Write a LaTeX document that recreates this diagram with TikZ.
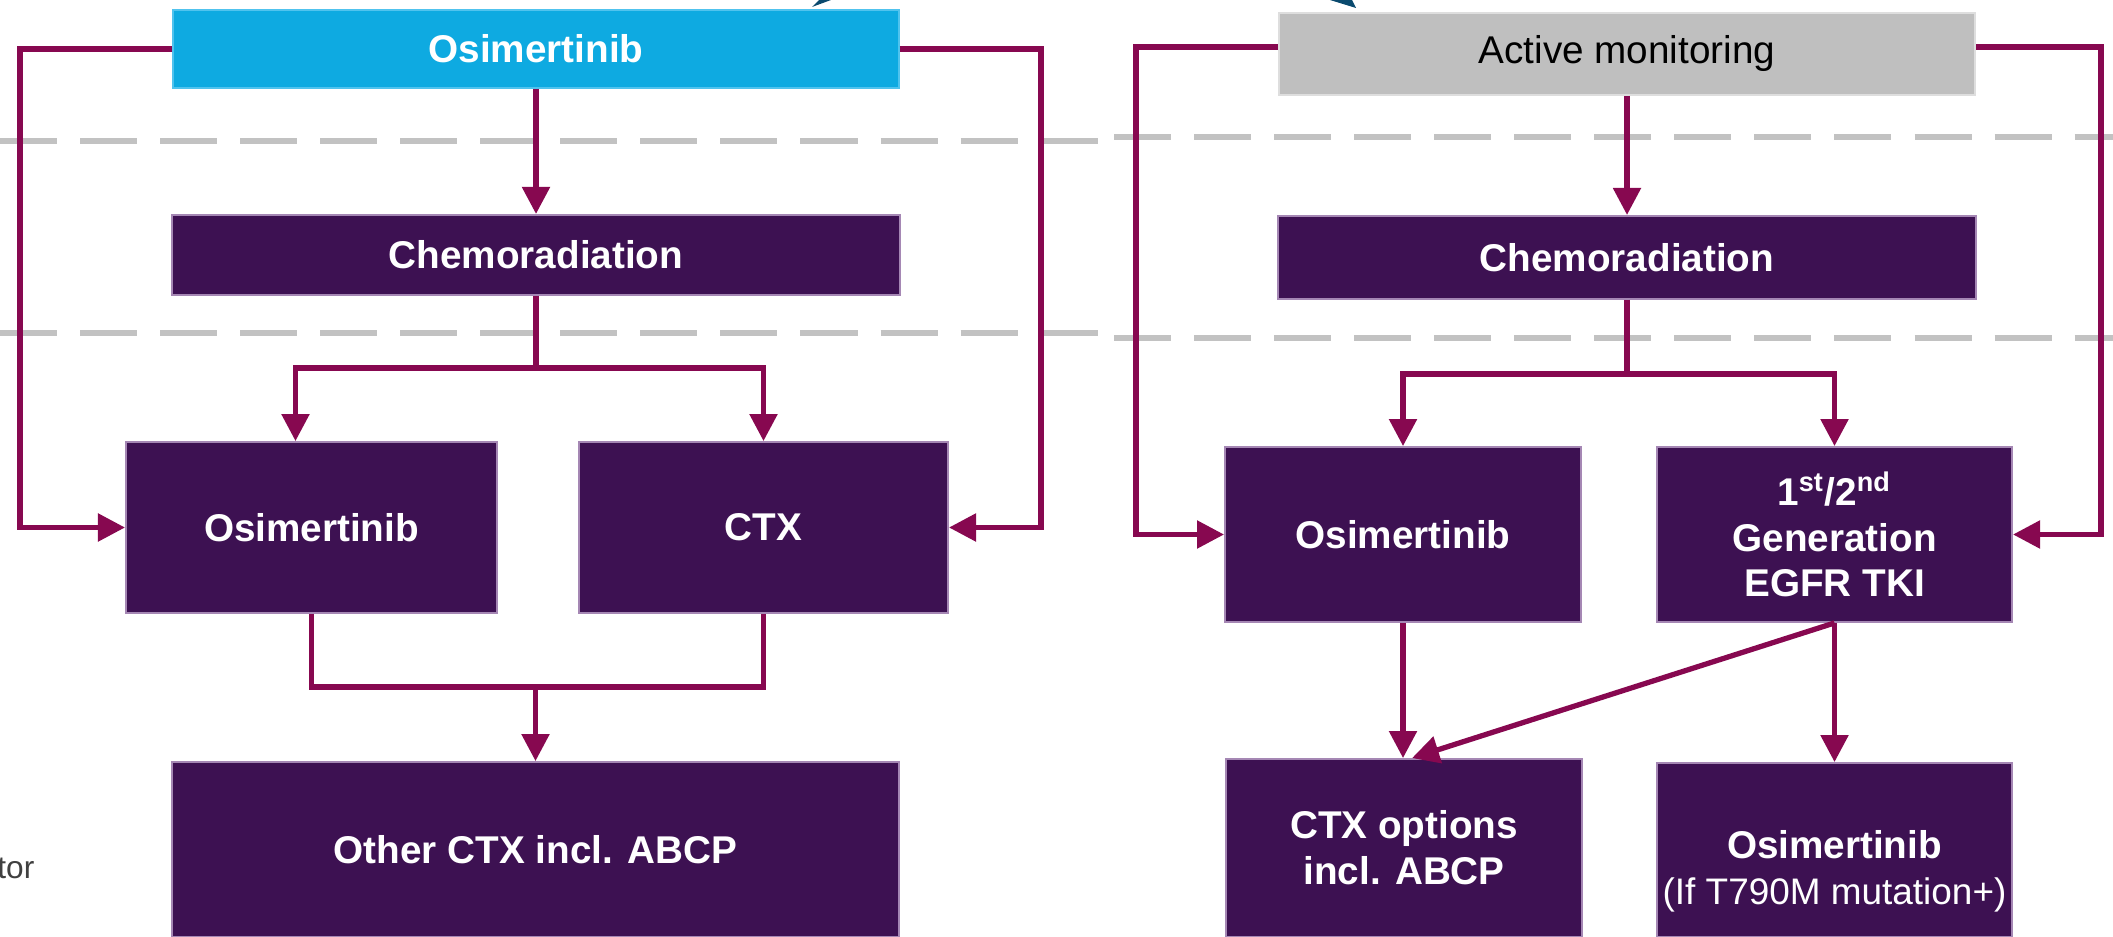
\documentclass[tikz,border=0pt]{standalone}
\usepackage{fontspec}
\setmainfont{Liberation Sans}
\usetikzlibrary{arrows.meta, positioning}

\definecolor{plum}{RGB}{61,17,82}
\definecolor{plumedge}{RGB}{165,135,180}
\definecolor{wine}{RGB}{135,8,80}
\definecolor{skyblue}{RGB}{14,170,225}
\definecolor{skyedge}{RGB}{80,195,238}
\definecolor{midgray}{RGB}{191,191,191}
\definecolor{grayedge}{RGB}{222,222,222}
\definecolor{dashgray}{RGB}{194,194,194}
\definecolor{petrol}{RGB}{10,74,110}
\definecolor{notegray}{RGB}{64,64,64}

\begin{document}
\begin{tikzpicture}[
    x = 0.01cm, y = -0.01cm,
    box/.style     = {rectangle, draw=plumedge, line width=0.5pt, fill=plum, text=white,
                      align=center, inner sep=2pt, font=\fontsize{11}{13}\selectfont\bfseries},
    headbox/.style = {box, fill=skyblue, draw=skyedge},
    waitbox/.style = {box, fill=midgray, draw=grayedge, text=black,
                      font=\fontsize{11}{13}\selectfont},
    link/.style    = {draw=wine, line width=1.5pt},
    arrow/.style   = {link, -{Triangle[length=0.27cm, width=0.27cm]}},
    band/.style    = {draw=dashgray, line width=1.7pt, dash pattern=on 0.57cm off 0.23cm},
]
\useasboundingbox (0,0) rectangle (2113,937);

\draw[band] (0,141)    -- (1103,141);
\draw[band] (0,333)    -- (1103,333);
\draw[band] (1114,137) -- (2113,137);
\draw[band] (1114,338) -- (2113,338);

\node[headbox, minimum width=7.25cm, minimum height=0.78cm] (osiTop) at (536,49) {Osimertinib};
\node[box, minimum width=7.27cm, minimum height=0.8cm, below=1.25cm of osiTop] (chemoL) {Chemoradiation};
\node[box, minimum width=3.71cm, minimum height=1.71cm] (osiL)   at (311.5,527.5) {Osimertinib};
\node[box, minimum width=3.69cm, minimum height=1.71cm] (ctxL)   at (763.5,527.5) {CTX};
\node[box, minimum width=7.27cm, minimum height=1.75cm] (otherL) at (535.5,849.5) {Other CTX incl. ABCP};

\node[waitbox, minimum width=6.96cm, minimum height=0.82cm] (monitor) at (1627,54) {Active monitoring};
\node[box, minimum width=6.97cm, minimum height=0.83cm, below=1.19cm of monitor] (chemoR) {Chemoradiation};
\node[box, minimum width=3.56cm, minimum height=1.75cm] (osiR)  at (1403,534.5)  {Osimertinib};
\node[box, minimum width=3.55cm, minimum height=1.75cm] (tkiR)  at (1834.5,534.5)
     {1\textsuperscript{st}/2\textsuperscript{nd}\\Generation\\EGFR TKI};
\node[box, minimum width=3.56cm, minimum height=1.78cm] (ctxR)  at (1404,848) {CTX options\\incl. ABCP};
\node[box, minimum width=3.55cm, minimum height=1.74cm,
      label={[text=white, align=center, yshift=-0.21cm, font=\fontsize{10.5}{13}\selectfont]center:%
      {\bfseries\fontsize{11}{13}\selectfont Osimertinib}\\(If T790M mutation+)}] (osiIf) at (1834.5,850) {};

\node[font=\fontsize{9}{11}\selectfont, text=notegray, anchor=base east, inner sep=0pt] (note) at (35,878) {tor};

\coordinate (railLL) at (20,0);
\coordinate (railLR) at (1041,0);
\coordinate (railRL) at (1136,0);
\coordinate (railRR) at (2101,0);
\coordinate (forkL)  at (0,368);
\coordinate (joinL)  at (0,687);
\coordinate (forkR)  at (0,374);
\coordinate (osiLin) at ([xshift=-0.16cm]osiL.north);

\draw[arrow] (osiTop.west) -| (railLL |- osiL.west) -- (osiL.west);
\draw[arrow] (osiTop.east) -| (railLR |- ctxL.east) -- (ctxL.east);
\draw[arrow] (osiTop) -- (chemoL);
\draw[arrow] (chemoL.south) |- (osiLin |- forkL) -- (osiLin);
\draw[arrow] (chemoL.south) |- (ctxL.north |- forkL) -- (ctxL.north);
\draw[link]  (osiL.south) |- (ctxL.south |- joinL) -- (ctxL.south);
\draw[arrow] (otherL.north |- joinL) -- (otherL.north);

\draw[arrow] ([yshift=0.07cm]monitor.west) -| (railRL |- osiR.west) -- (osiR.west);
\draw[arrow] ([yshift=0.07cm]monitor.east) -| (railRR |- tkiR.east) -- (tkiR.east);
\draw[arrow] (monitor) -- (chemoR);
\draw[arrow] (chemoR.south) |- (osiR.north |- forkR) -- (osiR.north);
\draw[arrow] (chemoR.south) |- (tkiR.north |- forkR) -- (tkiR.north);
\draw[arrow] (osiR.south) -- (osiR.south |- ctxR.north);
\draw[arrow] (tkiR.south) -- ([xshift=0.08cm]ctxR.north);
\draw[arrow] (tkiR.south) -- (osiIf.north);

\fill[petrol] (812,7) -- (819,0) -- (831,0) -- cycle;
\fill[petrol] (1330,0) -- (1352,0) -- (1356,8) -- cycle;

\end{tikzpicture}
\end{document}
